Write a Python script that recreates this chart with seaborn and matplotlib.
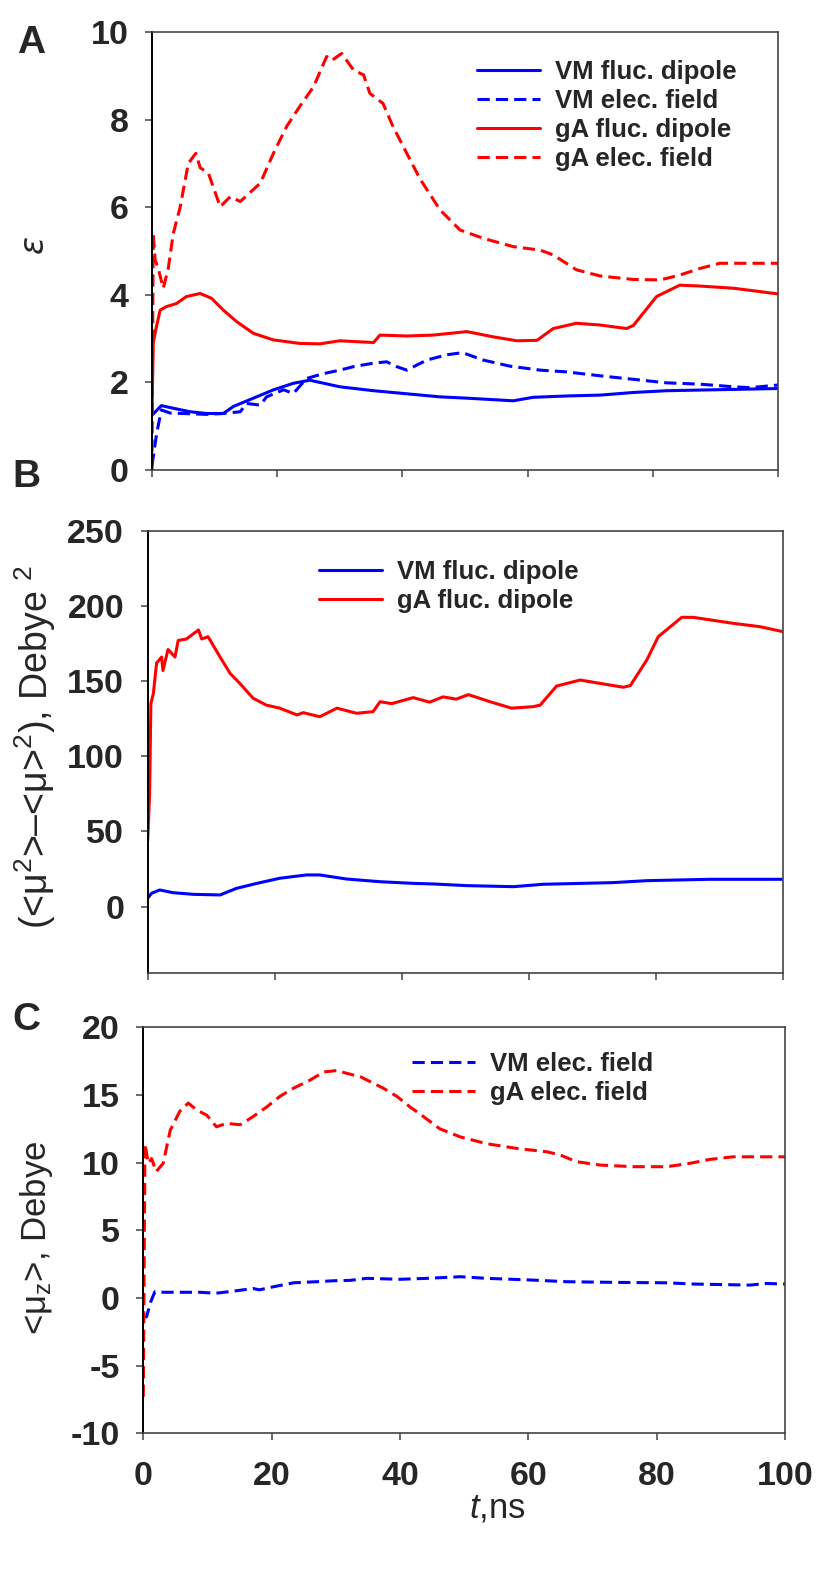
import numpy as np
import pandas as pd
import matplotlib
matplotlib.use("Agg")
import matplotlib.pyplot as plt
import seaborn as sns

# ---------------- data ----------------
A_gA_field_x = [0, 0.2, 0.5, 1.0, 1.8, 2.6, 3.4, 4.5, 5.8, 7.0, 7.7, 9.0, 10.9, 12.5, 14.1, 17.3, 19.4, 21.5, 23.6, 25.8, 27.9, 28.7, 30.3, 32.2, 33.8, 34.8, 36.9, 38.5, 40.7, 42.8, 46.0, 49.2, 52.9, 57.7, 62.0, 64.1, 67.8, 71.6, 76.9, 81.2, 84.3, 87.5, 90.7, 100]
A_gA_field_y = [0, 5.4, 4.8, 4.6, 4.15, 4.6, 5.4, 6.0, 7.0, 7.23, 6.9, 6.78, 6.01, 6.24, 6.13, 6.55, 7.23, 7.84, 8.3, 8.75, 9.44, 9.35, 9.51, 9.13, 9.02, 8.6, 8.37, 7.84, 7.23, 6.65, 5.94, 5.48, 5.29, 5.1, 5.02, 4.91, 4.57, 4.43, 4.35, 4.34, 4.45, 4.6, 4.72, 4.72]

A_gA_dip_x = [0, 0.2, 0.6, 1.3, 2.3, 3.9, 5.5, 7.7, 9.5, 11.4, 13.5, 16.2, 19.4, 23.6, 26.8, 30.0, 35.4, 36.4, 40.7, 44.9, 50.3, 54.5, 58.3, 61.5, 64.1, 67.8, 71.6, 75.8, 76.9, 80.6, 84.3, 87.5, 92.9, 100]
A_gA_dip_y = [1.3, 2.9, 3.2, 3.65, 3.73, 3.8, 3.96, 4.03, 3.92, 3.65, 3.39, 3.12, 2.97, 2.89, 2.88, 2.95, 2.91, 3.08, 3.06, 3.08, 3.16, 3.04, 2.95, 2.96, 3.23, 3.35, 3.31, 3.23, 3.3, 3.96, 4.22, 4.2, 4.15, 4.02]

A_VM_dip_x = [0, 1.5, 3.4, 6.1, 8.7, 11.4, 13.0, 16.2, 19.4, 22.6, 25.2, 30.0, 35.4, 40.7, 46.0, 50.3, 57.7, 60.9, 66.2, 71.6, 76.9, 82.2, 92.9, 100]
A_VM_dip_y = [1.25, 1.47, 1.41, 1.33, 1.29, 1.29, 1.45, 1.64, 1.83, 1.98, 2.05, 1.9, 1.81, 1.74, 1.67, 1.64, 1.58, 1.66, 1.69, 1.71, 1.77, 1.81, 1.84, 1.86]

A_VM_field_x = [0, 0.75, 1.5, 2.9, 5.0, 8.7, 11.4, 14.1, 15.1, 17.3, 18.3, 21.0, 22.6, 24.7, 27.4, 30.0, 32.2, 35.4, 37.5, 39.1, 40.7, 43.9, 47.1, 49.6, 52.9, 57.2, 62.0, 66.2, 71.6, 76.9, 82.2, 87.5, 92.9, 95.5, 100]
A_VM_field_y = [0.1, 0.84, 1.37, 1.3, 1.29, 1.27, 1.29, 1.33, 1.52, 1.48, 1.67, 1.83, 1.75, 2.09, 2.2, 2.28, 2.36, 2.44, 2.47, 2.36, 2.28, 2.51, 2.63, 2.68, 2.51, 2.37, 2.28, 2.24, 2.15, 2.07, 1.99, 1.96, 1.9, 1.88, 1.94]

B_gA_x = [0, 0.3, 0.5, 0.9, 1.4, 2.2, 2.4, 3.2, 4.3, 4.8, 6.1, 8.0, 8.5, 9.5, 11.4, 13.0, 14.5, 16.6, 18.7, 20.8, 23.5, 24.5, 27.1, 29.8, 32.9, 35.5, 36.6, 38.4, 41.8, 44.4, 46.5, 48.6, 50.5, 53.9, 57.3, 60.7, 61.8, 64.4, 68.1, 71.2, 74.9, 76.0, 78.6, 80.4, 84.1, 85.9, 92.2, 96.4, 100]
B_gA_y = [44, 75, 135, 142, 162, 166, 157, 171, 166, 177, 178, 184, 178, 179.5, 166, 155, 148.5, 138.6, 134, 132, 127.5, 129, 126.3, 132, 128.6, 129.7, 136.3, 135, 139, 136, 139.5, 138, 141, 136.3, 132, 133, 134, 146.7, 150.7, 148.5, 145.9, 147, 164, 179.5, 192.4, 192.4, 188.4, 186.2, 182.9]

B_VM_x = [0, 0.6, 1.9, 4.0, 7.2, 11.4, 14.0, 17.2, 20.8, 25.0, 27.1, 31.3, 36.6, 41.8, 45.0, 50.2, 57.6, 62.3, 73.3, 78.6, 88.5, 100]
B_VM_y = [5.6, 8.9, 11.1, 9.3, 8.2, 7.8, 12.2, 15.5, 18.9, 21.1, 21.1, 18.4, 16.6, 15.5, 15.1, 14.0, 13.3, 14.9, 16.0, 17.3, 18.2, 18.2]

C_gA_x = [0, 0.26, 0.78, 1.3, 2.0, 3.1, 4.2, 5.7, 7.0, 8.3, 9.9, 11.4, 13.0, 15.1, 17.1, 19.2, 21.3, 23.4, 26.0, 28.1, 30.1, 31.7, 33.8, 35.3, 37.4, 39.5, 41.6, 43.1, 46.2, 49.4, 53.5, 58.2, 62.9, 65.0, 67.5, 71.2, 76.4, 81.6, 85.2, 88.3, 91.9, 100]
C_gA_y = [-7.3, 11.4, 9.95, 10.3, 9.33, 9.95, 12.4, 13.8, 14.4, 13.9, 13.5, 12.65, 12.9, 12.8, 13.4, 14.1, 14.9, 15.5, 16.1, 16.7, 16.8, 16.6, 16.35, 16.0, 15.5, 14.9, 14.1, 13.6, 12.5, 11.9, 11.4, 11.05, 10.8, 10.56, 10.07, 9.82, 9.7, 9.7, 9.95, 10.24, 10.43, 10.43]

C_VM_x = [0, 0.5, 1.15, 1.8, 3.1, 8.8, 11.3, 14.0, 17.1, 18.1, 20.3, 23.4, 27.0, 29.6, 32.2, 34.8, 40.0, 44.2, 49.4, 53.5, 60.8, 66.0, 73.8, 81.6, 85.7, 94.5, 97.1, 100]
C_VM_y = [-1.3, -1.4, -0.3, 0.46, 0.42, 0.42, 0.35, 0.5, 0.7, 0.6, 0.83, 1.12, 1.2, 1.27, 1.3, 1.45, 1.38, 1.45, 1.57, 1.45, 1.32, 1.2, 1.15, 1.12, 1.03, 0.95, 1.07, 1.03]

x_ticks = [0, 20, 40, 60, 80, 100]
A_yticks = [0, 2, 4, 6, 8, 10]
B_yticks = [0, 50, 100, 150, 200, 250]
C_yticks = [-10, -5, 0, 5, 10, 15, 20]

# ---------------- style ----------------
sns.set_theme(style="ticks")
plt.rcParams['font.family'] = ['Liberation Sans', 'DejaVu Sans']
plt.rcParams['mathtext.fontset'] = 'custom'
plt.rcParams['mathtext.rm'] = 'Liberation Sans'
plt.rcParams['mathtext.it'] = 'Liberation Sans:italic'

W, H = 819, 1577
fig = plt.figure(figsize=(W / 100, H / 100), dpi=100)

def rect(L, R, T, B):
    return [L / W, (H - B) / H, (R - L) / W, (B - T) / H]

axA = fig.add_axes(rect(152, 778, 32, 470))
axB = fig.add_axes(rect(147.7, 782.7, 530.7, 973.3))
axC = fig.add_axes(rect(143.3, 785, 1027.3, 1433.3))

LW = 2.2
DASH = (4, 2)

def draw(ax, xs, ys, color, dashed, label):
    df = pd.DataFrame({"t": xs, "v": ys})
    sns.lineplot(data=df, x="t", y="v", ax=ax, color=color, linewidth=LW,
                 sort=False, estimator=None, label=label, legend=False)
    ln = ax.lines[-1]
    if dashed:
        ln.set_linestyle((0, DASH))
    return ln

hA = [draw(axA, A_VM_dip_x, A_VM_dip_y, '#0000FF', False, 'VM fluc. dipole'),
      draw(axA, A_VM_field_x, A_VM_field_y, '#0000FF', True, 'VM elec. field'),
      draw(axA, A_gA_dip_x, A_gA_dip_y, '#FF0000', False, 'gA fluc. dipole'),
      draw(axA, A_gA_field_x, A_gA_field_y, '#FF0000', True, 'gA elec. field')]
hB = [draw(axB, B_VM_x, B_VM_y, '#0000FF', False, 'VM fluc. dipole'),
      draw(axB, B_gA_x, B_gA_y, '#FF0000', False, 'gA fluc. dipole')]
hC = [draw(axC, C_VM_x, C_VM_y, '#0000FF', True, 'VM elec. field'),
      draw(axC, C_gA_x, C_gA_y, '#FF0000', True, 'gA elec. field')]

tick_font = dict(family='Liberation Sans', weight='bold', size=24.5)

for ax, lim, yt in [(axA, (0, 10), A_yticks), (axB, (-44.3, 250), B_yticks), (axC, (-10, 20), C_yticks)]:
    ax.set_xlim(0, 100)
    ax.set_ylim(*lim)
    ax.set_xticks(x_ticks)
    ax.set_yticks(yt)
    ax.set_xlabel('')
    ax.set_ylabel('')
    for s in ['top', 'right', 'bottom']:
        ax.spines[s].set_color('#444444')
        ax.spines[s].set_linewidth(1.2)
    ax.spines['left'].set_color('black')
    ax.spines['left'].set_linewidth(1.4)
    ax.tick_params(axis='both', direction='out', length=5, width=1.1, color='#444444')
    ax.tick_params(axis='y', pad=12)
    ax.tick_params(axis='x', pad=15)
    ax.set_yticklabels([str(v) for v in yt], fontdict=tick_font)
    ax.patch.set_alpha(0)

axA.set_xticklabels([])
axB.set_xticklabels([])
axC.set_xticklabels([str(v) for v in x_ticks], fontdict=tick_font)

leg_kw = dict(frameon=False, borderpad=0, borderaxespad=0, handlelength=2.45,
              handletextpad=0.6, labelspacing=0.2,
              prop=dict(family='Liberation Sans', weight='bold', size=18.5),
              loc='upper left', bbox_transform=fig.transFigure)

def fx(px):
    return px / W

def fy(py):
    return (H - py) / H

axA.legend(handles=hA, labels=[h.get_label() for h in hA], bbox_to_anchor=(fx(477), fy(60)), **leg_kw)
axB.legend(handles=hB, labels=[h.get_label() for h in hB], bbox_to_anchor=(fx(319), fy(560)), **leg_kw)
axC.legend(handles=hC, labels=[h.get_label() for h in hC], bbox_to_anchor=(fx(412), fy(1052)), **leg_kw)

# panel letters
for txt, px, py in [('A', 31, 43), ('B', 26, 477), ('C', 26, 1020)]:
    fig.text(fx(px), fy(py), txt, ha='center', va='center', fontsize=28, fontweight='bold')

# y labels
fig.text(fx(33), fy(244), 'ε', ha='center', va='center', rotation=90, fontsize=24,
         fontstyle='italic', family=['DejaVu Sans'])
fig.text(fx(35), fy(747), r'(<$\mathregular{\mu^2}$>–<$\mathregular{\mu}$>$\mathregular{^2}$), Debye $\mathregular{^2}$',
         ha='center', va='center', rotation=90, fontsize=27)
fig.text(fx(37), fy(1238), r'<$\mathregular{\mu_z}$>, Debye', ha='center', va='center', rotation=90, fontsize=25)

# x label
fig.text(fx(497), fy(1508), r'$\mathit{t}$,ns', ha='center', va='center', fontsize=25)

fig.savefig('out.png', dpi=100)
